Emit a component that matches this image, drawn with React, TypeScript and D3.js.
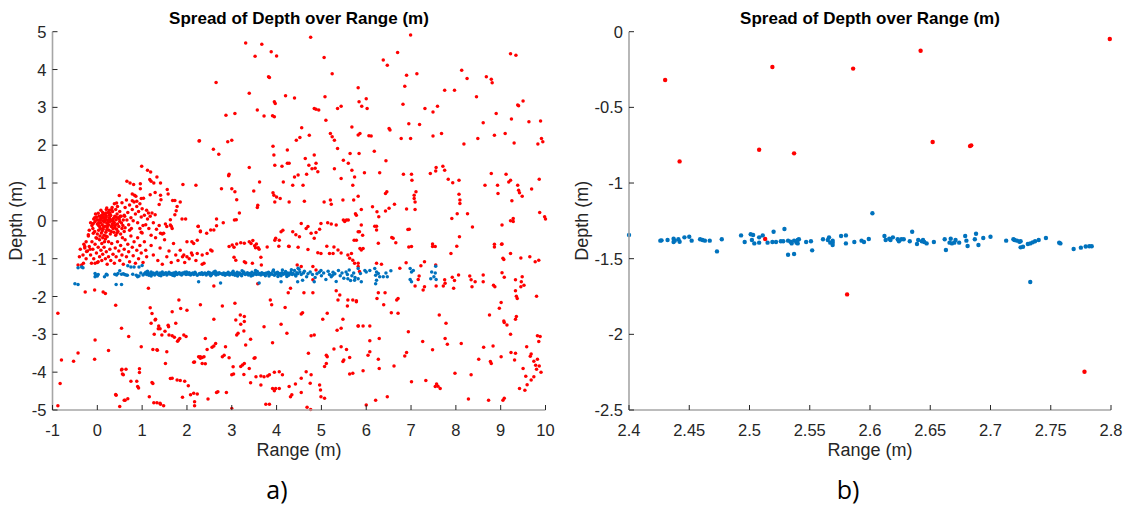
import React from "react";
import * as d3 from "d3";

type P = [number, number];

// ---------- tick labels ----------
const leftRangeTicks = [-1, 0, 1, 2, 3, 4, 5, 6, 7, 8, 9, 10];
const leftDepthTicks = [-5, -4, -3, -2, -1, 0, 1, 2, 3, 4, 5];
const rightRangeTicks = [2.4, 2.45, 2.5, 2.55, 2.6, 2.65, 2.7, 2.75, 2.8];
const rightRangeLabels = ["2.4", "2.45", "2.5", "2.55", "2.6", "2.65", "2.7", "2.75", "2.8"];
const rightDepthTicks = [-2.5, -2, -1.5, -1, -0.5, 0];
const rightDepthLabels = ["-2.5", "-2", "-1.5", "-1", "-0.5", "0"];

// ---------- panel a) red: upper half ----------
const leftRedUpper: P[] = [
  [3.31,4.70],[3.67,4.67],[3.88,4.47],[4.00,4.36],[3.52,4.35],[4.76,4.85],[5.06,4.32],[6.99,4.91],[6.70,4.45],[6.38,4.25],
  [6.47,4.11],[5.24,3.89],[3.82,3.81],[3.84,3.79],[2.65,3.66],[3.39,3.37],[3.95,3.15],[3.97,3.10],[4.20,3.31],[4.40,3.25],
  [3.57,2.93],[3.72,2.77],[3.95,2.75],[3.91,2.78],[2.87,2.79],[3.07,2.84],[4.84,2.97],[4.88,2.95],[4.94,2.93],[5.08,3.28],
  [5.36,2.97],[5.44,3.03],[5.82,3.52],[5.84,3.15],[5.90,3.03],[6.00,3.23],[6.02,2.97],[6.86,3.56],[6.90,3.85],[7.13,3.89],
  [6.82,3.08],[7.31,2.97],[7.59,3.03],[7.49,2.88],[7.75,3.45],[7.97,3.45],[8.13,3.98],[8.25,3.76],[8.46,3.28],[8.68,3.81],
  [8.79,3.74],[8.81,3.65],[9.22,4.42],[9.34,4.38],[9.38,3.06],[9.40,3.04],[9.50,3.17],[6.51,2.44],[6.53,2.40],[6.95,2.57],
  [7.19,2.55],[6.99,2.18],[6.78,2.18],[7.49,2.24],[7.68,2.31],[8.49,2.18],[8.61,2.59],[8.86,2.26],[8.90,2.84],[9.10,2.31],
  [9.24,2.69],[9.30,2.06],[9.63,2.62],[9.89,2.64],[9.91,2.18],[9.94,2.09],[9.83,2.03],[8.18,2.03],[5.86,2.31],[6.11,2.24],
  [6.06,2.25],[5.82,2.27],[5.20,2.31],[5.24,2.22],[5.29,2.13],[5.36,1.91],[5.10,2.66],[5.68,2.48],[4.73,2.26],[4.56,2.46],
  [4.52,2.20],[4.44,2.13],[4.24,1.87],[3.92,1.97],[3.94,1.74],[2.27,2.11],[2.59,1.89],[2.71,1.76],[2.91,2.09],[3.00,2.13],
  [3.39,1.41],[2.94,1.23],[2.93,1.19],[3.62,1.03],[3.49,0.79],[3.58,0.41],[3.57,0.35],[3.00,0.85],[3.07,0.77],[3.11,0.56],
  [2.77,0.85],[2.66,0.05],[3.06,0.02],[3.10,0.03],[3.17,0.21],[3.96,1.47],[4.12,1.44],[4.24,1.52],[4.28,1.52],[4.15,1.03],
  [3.92,0.74],[4.00,0.63],[4.08,0.59],[3.94,0.68],[3.96,0.50],[4.36,0.94],[4.40,1.16],[4.48,1.21],[4.59,0.94],[4.64,1.65],
  [4.72,1.47],[4.79,1.38],[4.67,1.23],[4.84,1.74],[4.88,1.52],[4.92,1.30],[4.86,1.39],[4.28,0.50],[4.62,0.52],[5.06,0.50],
  [5.20,0.55],[5.22,0.44],[5.29,1.38],[5.44,1.12],[5.49,1.60],[5.60,1.52],[5.68,1.34],[5.64,1.78],[5.74,1.16],[5.70,0.94],
  [5.84,1.78],[5.96,1.27],[5.82,0.65],[5.72,0.55],[5.48,0.55],[6.18,1.84],[6.30,1.27],[6.44,1.59],[6.46,0.77],[6.43,0.72],
  [6.63,0.44],[6.51,0.33],[6.83,1.23],[7.01,1.23],[7.02,1.07],[7.07,0.59],[7.09,0.50],[7.11,0.77],[7.07,0.68],[6.90,0.31],
  [7.09,0.30],[7.43,1.25],[7.56,1.41],[7.55,1.32],[7.71,1.44],[7.75,1.34],[7.83,1.10],[7.93,1.01],[8.07,1.07],[8.07,0.70],
  [8.09,0.55],[8.09,0.46],[8.26,0.19],[7.91,0.06],[8.03,0.19],[8.65,0.94],[8.79,1.25],[8.93,0.94],[8.94,0.72],[9.12,1.23],
  [9.18,1.03],[9.22,1.07],[9.25,0.53],[9.28,0.06],[9.22,0.00],[9.38,0.94],[9.40,0.81],[9.42,0.74],[9.48,0.65],[9.69,0.84],
  [9.86,1.10],[9.87,0.22],[9.98,0.11],[10.0,0.05],[5.49,0.02],[5.56,0.02],[5.60,0.02],[5.76,0.19],[5.78,0.15],[5.89,0.30],
  [6.14,0.37],[6.24,0.24],[6.28,0.11],[6.43,0.26],[2.28,2.12],[1.91,0.96],[2.20,0.94],
];

// ---------- panel a) red: cluster near the sonar ----------
const leftRedCluster: P[] = [
  [-0.08,0.05],[-0.05,-0.02],[-0.02,0.10],[0.00,-0.08],[0.02,0.02],[0.04,0.12],[0.05,-0.15],[0.07,-0.05],[0.08,0.06],[0.10,0.15],
  [0.11,-0.10],[0.12,0.00],[0.13,-0.22],[0.14,0.08],[0.15,-0.03],[0.16,0.18],[0.17,-0.14],[0.18,0.04],[0.19,-0.30],[0.20,0.10],
  [0.21,-0.06],[0.22,-0.18],[0.23,0.02],[0.24,0.22],[0.25,-0.10],[0.26,-0.25],[0.27,0.08],[0.28,-0.02],[0.29,-0.35],[0.30,0.14],
  [0.31,-0.15],[0.32,0.00],[0.33,-0.08],[0.34,0.25],[0.35,-0.20],[0.36,0.06],[0.37,-0.30],[0.38,-0.05],[0.39,0.12],[0.40,-0.12],
  [0.41,-0.38],[0.42,0.03],[0.43,-0.22],[0.44,0.18],[0.45,-0.08],[0.46,-0.28],[0.47,0.08],[0.48,-0.15],[0.50,-0.02],[0.52,-0.35],
  [0.53,0.12],[0.55,-0.20],[0.56,-0.45],[0.58,0.02],[0.60,-0.28],[-0.12,-0.12],[-0.10,-0.20],[-0.06,-0.28],[0.00,-0.35],[0.03,-0.25],
  [0.06,-0.40],[0.09,-0.32],[0.12,-0.45],[0.15,-0.38],[0.18,-0.48],[0.22,-0.42],[0.25,-0.55],[0.02,0.20],[0.08,0.28],[0.12,0.22],
  [0.20,0.30],[0.27,0.28],[0.33,0.35],[-0.04,0.18],[0.16,-0.55],[0.10,-0.60],[0.05,-0.50],[-0.03,-0.45],[-0.15,-0.05],[-0.18,-0.25],
  [-0.06,0.08],[0.03,-0.12],[0.09,0.10],[0.14,-0.16],[0.19,0.14],[0.24,-0.04],[0.29,0.04],[0.34,-0.12],[0.06,0.02],[0.17,0.00],
  [-0.30,-0.62],[-0.28,-0.72],[-0.25,-0.55],[-0.22,-0.80],[-0.20,-0.40],[-0.18,-0.68],[-0.15,-0.90],[-0.12,-0.55],[-0.10,-0.75],[-0.08,-1.00],
  [-0.05,-0.62],[-0.02,-0.85],[0.00,-1.10],[0.02,-0.70],[0.05,-0.95],[0.08,-0.78],[0.10,-1.05],[0.12,-0.88],[0.15,-0.70],[0.18,-1.00],
  [0.20,-0.82],[0.22,-1.15],[0.25,-0.95],[0.28,-0.75],[0.30,-1.05],[0.32,-0.60],[0.35,-0.88],[0.38,-1.12],[0.40,-0.72],[0.42,-0.95],
  [0.45,-0.55],[0.48,-0.80],[0.50,-1.05],[0.52,-0.65],[0.55,-0.90],[0.58,-1.15],[0.60,-0.75],[0.62,-0.50],[0.65,-0.95],[0.68,-0.62],
  [0.70,-0.82],[0.72,-1.08],[0.75,-0.40],[0.78,-0.70],[0.80,-0.92],[0.82,-0.55],[0.85,-1.12],[0.88,-0.78],[0.90,-0.45],[0.92,-1.00],
  [0.95,-0.65],[0.98,-0.85],[1.00,-0.32],[1.02,-1.10],[1.05,-0.55],[1.08,-0.78],[1.10,-0.95],[0.70,-0.10],[0.72,-0.25],[0.66,0.02],
  [0.62,-0.18],[0.76,-0.20],[0.80,0.00],[0.95,-0.20],[1.02,-0.12],[0.98,-0.30],[-0.43,-1.17],[-0.35,-1.17],[-0.31,-1.12],[-0.13,-1.12],
  [-0.05,-1.12],[0.02,-1.08],[0.38,0.45],[0.45,0.38],[0.50,0.25],[0.55,0.48],[0.60,0.15],[0.62,0.35],[0.65,0.55],[0.68,0.22],
  [0.72,0.42],[0.75,0.08],[0.78,0.30],[0.82,0.50],[0.85,0.18],[0.88,0.38],[0.90,-0.05],[0.92,0.25],[0.95,0.45],[0.98,0.10],
  [1.00,0.32],[1.05,0.15],[1.08,-0.10],[1.10,0.28],[1.12,0.05],[1.15,-0.20],[0.99,1.44],[1.12,1.34],[1.19,1.29],[1.33,1.16],
  [0.66,1.05],[0.73,1.00],[0.81,0.96],[0.96,0.98],[1.17,1.09],[1.20,1.05],[1.26,1.00],[1.41,1.00],[0.96,0.85],[0.78,0.71],
  [0.83,0.68],[0.86,0.65],[0.98,0.59],[1.03,0.60],[1.18,0.69],[1.29,0.75],[1.41,0.68],[1.42,0.56],[1.56,0.83],[1.58,0.71],
  [1.68,0.54],[1.73,0.54],[1.85,0.50],[1.78,0.38],[1.76,0.27],[1.73,0.16],[1.38,0.43],[0.78,0.53],[0.88,0.52],[0.49,0.67],
  [0.43,0.47],[0.41,0.30],[0.32,0.30],[0.21,0.34],[0.19,0.21],[0.28,0.21],[0.10,0.14],[0.51,0.12],[0.61,0.12],[1.14,0.21],
  [1.22,0.21],[1.18,0.12],[1.29,0.16],[1.52,-0.08],[1.63,0.03],[1.65,-0.14],[1.89,0.05],[1.97,0.05],[2.25,-0.14],[1.25,-0.05],
  [1.32,-0.22],[1.45,-0.35],[1.20,-0.38],[1.38,-0.12],[-0.20,-0.37],[-0.09,-0.33],[-0.01,-0.46],[-0.28,-0.68],[-0.24,-0.81],[-0.16,-0.75],
  [-0.32,-0.90],[-0.38,-0.75],[-0.40,-0.95],[-0.25,-1.00],
  [1.20,-0.65],[1.25,-0.90],[1.30,-0.45],[1.35,-1.05],[1.40,-0.72],[1.45,-1.15],[1.50,-0.50],[1.55,-0.95],[1.60,-0.80],[1.65,-1.10],
  [1.70,-0.60],[1.75,-0.90],[1.80,-1.05],[1.85,-0.78],[1.90,-0.95],[1.95,-1.10],[2.00,-0.55],[2.05,-1.00],[2.10,-0.85],[2.20,-1.05],
  [2.15,-0.60],[2.11,-0.55],[2.23,-0.51],[2.25,-0.15],[2.30,-0.29],[1.41,-0.33],[1.48,-0.33],[1.55,-0.15],[1.63,-0.11],[1.67,-0.20],
  [1.93,-0.90],[2.00,-0.95],[2.12,-0.90],[2.23,-0.86],[2.34,-0.90],[2.38,-1.12],
  [0.03,-0.05],[0.13,0.11],[0.21,-0.24],[0.26,0.15],[0.36,-0.02],[0.44,-0.32],[0.49,0.05],[0.57,-0.12],[0.11,-0.27],[-0.01,0.03],
  [0.07,-0.20],[0.31,-0.28],[0.39,-0.18],[0.23,-0.12],[0.16,0.07],[0.28,0.18],[0.42,0.10],[0.54,-0.06],[-0.09,-0.07],[0.19,-0.40],
];

// ---------- panel a) red: lower half ----------
const leftRedLower: P[] = [
  [-0.88,-2.44],[-0.80,-3.68],[-0.83,-4.30],[-0.88,-4.89],[-0.53,-3.71],[-0.43,-3.49],[-0.27,-1.88],[-0.06,-1.83],[0.13,-1.88],[0.18,-1.92],
  [-0.05,-3.15],[-0.06,-3.66],[0.25,-3.43],[0.41,-2.23],[0.42,-4.61],[0.54,-2.84],[0.54,-3.94],[0.58,-4.07],[0.64,-3.92],[0.70,-3.06],
  [0.50,-4.91],[0.62,-4.74],[0.68,-4.70],[0.88,-4.24],[0.92,-4.42],[0.98,-3.33],[0.94,-3.91],[1.18,-2.30],[1.22,-2.45],[1.20,-2.71],
  [1.30,-2.60],[1.27,-3.00],[1.24,-3.40],[1.24,-4.30],[1.34,-3.42],[1.36,-2.85],[1.40,-2.85],[1.40,-4.82],[1.48,-4.89],[1.51,-2.92],
  [1.58,-2.76],[1.60,-3.02],[1.75,-2.71],[1.79,-3.18],[1.81,-3.15],[1.84,-3.11],[1.93,-3.02],[1.98,-3.06],[1.72,-3.08],[1.63,-4.17],
  [1.78,-4.21],[1.85,-4.22],[1.95,-4.24],[1.90,-4.66],[1.67,-2.40],[1.86,-2.32],[2.00,-2.36],[1.29,-2.62],[1.37,-2.78],[1.59,-2.80],
  [1.14,-1.78],[1.44,-3.02],[1.67,-3.04],[1.33,-3.41],[1.52,-3.77],[1.55,-3.46],[1.67,-4.16],[2.03,-4.36],[2.08,-4.60],[2.15,-4.56],
  [2.23,-4.58],[2.17,-4.78],[1.16,-4.65],[1.26,-4.81],[1.33,-4.81],[1.41,-4.85],[0.55,-3.92],[0.56,-4.05],[0.41,-4.59],[0.75,-4.24],
  [0.90,-4.38],[0.94,-4.01],[1.22,-4.27],[1.82,-2.09],[2.15,-3.74],[2.26,-3.59],[2.30,-3.63],[2.38,-3.59],[2.34,-3.77],[2.17,-4.89],
  [0.60,-4.74],
  [2.30,-0.27],[2.44,-0.33],[2.53,-0.24],[2.60,-0.24],[2.66,-0.13],[2.81,-0.05],[2.45,-0.86],[2.53,-0.77],[2.56,-0.80],[2.94,-0.68],
  [3.01,-0.64],[3.05,-0.70],[3.11,-0.61],[3.20,-0.58],[3.28,-0.59],[3.39,-0.55],[3.43,-0.60],[3.47,-0.52],[3.51,-0.66],[3.55,-0.61],
  [3.53,-0.71],[3.59,-0.71],[3.61,-0.75],[3.05,-0.96],[3.09,-1.04],[3.28,-1.08],[3.31,-1.11],[3.46,-1.12],[3.65,-0.96],[3.66,-1.17],
  [2.34,-1.15],[3.98,-0.46],[4.10,-0.29],[4.06,-0.51],[4.28,-0.68],[4.36,-0.29],[4.43,-0.37],[4.51,-0.42],[4.55,-0.07],[4.66,-0.20],
  [4.70,-0.15],[4.77,-0.33],[4.84,-0.46],[4.88,-0.31],[4.96,-0.22],[4.99,-0.07],[5.14,-0.05],[5.22,-0.08],[5.33,-0.11],[5.52,-0.02],
  [5.78,-0.51],[5.82,-0.29],[4.92,-0.84],[4.99,-0.86],[5.18,-0.86],[5.26,-0.86],[5.37,-0.77],[5.59,-0.90],[5.67,-0.86],[5.63,-0.99],
  [5.70,-1.04],[5.74,-1.12],[5.82,-1.12],[4.46,-1.17],[4.55,-1.21],[4.81,-1.21],[4.88,-1.30],[4.81,-1.56],[3.79,-0.69],[3.96,-0.51],
  [4.14,-0.25],[4.05,-0.67],[4.27,-0.67],[4.48,-0.70],[4.70,-0.76],[5.12,-0.67],[5.28,-0.69],[5.44,-0.85],[5.73,-0.51],[5.92,-0.38],
  [2.60,-1.72],[2.79,-2.25],[3.07,-2.18],[3.09,-2.62],[3.19,-2.49],[3.28,-2.53],[3.28,-2.66],[3.20,-2.73],[3.14,-2.97],[3.11,-3.02],
  [3.27,-2.91],[3.42,-3.13],[3.31,-3.28],[2.86,-3.33],[2.60,-2.60],[2.41,-3.11],[2.45,-3.40],[2.56,-3.34],[2.60,-3.31],[2.64,-3.24],
  [2.30,-3.59],[2.34,-3.61],[2.41,-3.78],[2.79,-3.59],[2.83,-3.55],[2.94,-3.62],[3.03,-3.86],[3.20,-3.85],[3.24,-3.81],[3.28,-3.77],
  [3.39,-3.90],[3.50,-3.63],[3.52,-3.62],[3.54,-4.12],[3.65,-4.10],[3.72,-4.12],[3.80,-4.10],[3.84,-4.07],[3.00,-4.07],[3.04,-4.05],
  [3.27,-4.06],[3.42,-4.28],[3.65,-4.34],[3.95,-4.00],[4.06,-3.99],[4.13,-4.07],[3.91,-4.43],[3.98,-4.43],[4.06,-4.43],[3.95,-4.49],
  [4.28,-4.38],[4.34,-4.60],[4.31,-4.65],[4.55,-4.16],[4.66,-3.99],[4.55,-4.54],[4.77,-4.07],[4.75,-4.29],[4.96,-4.34],[4.98,-4.47],
  [4.71,-3.50],[4.77,-3.04],[4.84,-3.02],[4.23,-2.97],[3.91,-3.22],[3.72,-2.80],[4.10,-2.73],[4.55,-2.46],[4.58,-2.43],[4.61,-1.90],
  [4.81,-1.90],[4.31,-1.78],[4.26,-1.90],[4.19,-2.29],[3.86,-2.09],[3.89,-2.22],[5.03,-2.60],[5.13,-2.44],[5.33,-1.85],[5.37,-2.09],
  [5.41,-1.96],[5.59,-2.09],[5.70,-2.09],[5.78,-2.14],[5.58,-2.25],[5.82,-2.78],[5.48,-2.60],[5.44,-2.84],[5.35,-2.89],[5.28,-3.39],
  [5.50,-3.68],[5.48,-3.72],[5.63,-3.61],[5.70,-4.03],[5.63,-4.05],[5.11,-3.55],[5.13,-3.59],[5.07,-3.85],[5.11,-3.77],[4.99,-4.65],
  [5.07,-4.69],[2.69,-4.52],[2.66,-4.54],[2.47,-4.71],[2.88,-4.54],[3.00,-4.96],[3.76,-4.85],[3.84,-4.85],[4.42,-4.31],[2.30,-2.22],
  [4.68,-4.93],[4.76,-4.99],[5.44,-3.33],[5.56,-3.40],[3.58,-1.66],[2.17,-3.73],
  [5.89,-0.11],[5.85,-0.29],[6.23,-0.14],[6.23,-0.24],[6.27,-0.59],[5.93,-0.73],[5.89,-0.77],[6.60,-0.46],[6.66,-0.58],[6.96,-0.22],
  [7.01,-0.68],[7.48,-0.61],[7.54,-0.68],[7.48,-0.68],[8.02,-0.67],[8.08,-0.42],[7.89,-0.86],[9.03,-0.61],[9.05,-0.99],[9.22,-0.86],
  [6.89,-1.11],[6.75,-1.25],[7.22,-1.19],[7.55,-1.17],[6.23,-1.12],[6.34,-1.15],[5.85,-1.34],[5.82,-1.21],[7.09,-1.72],[7.16,-1.55],
  [7.18,-1.46],[7.27,-1.83],[7.30,-1.74],[7.56,-1.72],[7.75,-1.56],[7.72,-1.72],[7.76,-1.65],[7.92,-1.49],[7.97,-1.58],[7.95,-1.78],
  [8.06,-1.43],[8.31,-1.46],[8.34,-1.56],[8.43,-1.61],[8.36,-1.74],[8.61,-1.43],[8.61,-1.61],[8.84,-1.70],[8.87,-1.74],[9.03,-1.37],
  [9.08,-1.49],[9.33,-1.56],[9.35,-1.99],[9.33,-1.85],[6.27,-1.90],[6.42,-1.90],[6.24,-2.05],[6.71,-2.05],[6.68,-2.09],[6.39,-2.22],
  [6.56,-2.43],[6.71,-2.44],[5.78,-2.11],[5.82,-2.78],[5.93,-2.78],[6.08,-2.78],[6.08,-3.17],[6.29,-3.11],[6.08,-3.46],[6.04,-3.55],
  [6.27,-3.66],[6.29,-3.90],[5.93,-3.96],[6.00,-4.87],[6.21,-4.74],[6.47,-4.65],[6.62,-3.84],[6.86,-3.57],[6.90,-3.48],[6.94,-2.93],
  [7.26,-3.19],[7.48,-3.41],[7.01,-4.25],[7.33,-4.22],[7.57,-4.31],[7.60,-4.37],[7.54,-4.38],[7.65,-4.43],[7.63,-2.49],[7.78,-2.71],
  [7.76,-3.11],[7.81,-3.26],[8.12,-3.24],[7.98,-4.03],[8.34,-4.07],[8.28,-4.71],[8.62,-3.34],[8.83,-3.31],[8.51,-3.66],[8.77,-3.72],
  [8.79,-3.77],[9.01,-3.59],[9.23,-3.48],[9.33,-3.50],[9.31,-3.68],[8.75,-2.49],[8.97,-2.31],[9.01,-2.16],[9.07,-2.65],[9.08,-2.69],
  [9.14,-2.75],[9.22,-3.00],[9.33,-2.60],[9.35,-2.53],[8.73,-4.74],[9.05,-4.74],[9.08,-4.69],[9.03,-0.11],[9.28,-0.02],[9.02,-0.62],
  [9.07,-1.02],[7.30,-1.08],[8.37,-0.16],[8.86,-0.62],[8.86,-0.69],[6.19,-0.14],[6.57,-0.44],[6.93,-0.23],[6.95,-0.69],[5.86,-0.73],
  [9.65,-0.95],[9.77,-1.08],[9.85,-1.04],[9.45,-1.74],[9.52,-1.70],[9.46,-1.61],[9.48,-1.48],[9.37,-2.05],[9.42,-4.43],[9.54,-4.48],
  [9.58,-3.33],[9.66,-3.58],[9.68,-3.52],[9.74,-3.71],[9.78,-3.82],[9.80,-3.92],[9.82,-3.04],[9.88,-3.06],[9.85,-3.19],[9.68,-4.21],
  [9.74,-4.12],[9.82,-3.66],[9.86,-3.84],[9.50,-3.90],[9.56,-4.11],[9.59,-4.33],[9.80,-1.99],[9.45,-0.98],[9.90,-4.00],
];

// ---------- panel a) blue: seabed returns ----------
const leftBlue: P[] = [
  [-0.43,-1.24],[-0.32,-1.24],[-0.35,-1.22],[-0.50,-1.66],[-0.43,-1.68],[-0.05,-1.39],[-0.05,-1.48],[-0.03,-1.44],[0.02,-1.42],[0.00,-1.46],
  [0.20,-1.41],[0.16,-1.48],[0.22,-1.43],[0.39,-1.41],[0.43,-1.43],[0.46,-1.39],[0.50,-1.32],[0.54,-1.41],[0.58,-1.40],[0.61,-1.42],
  [0.64,-1.43],[0.67,-1.44],[0.42,-1.68],[0.54,-1.68],[0.68,-1.19],[0.75,-1.22],[0.82,-1.22],[0.93,-1.22],[1.00,-1.18],[0.79,-1.41],
  [0.87,-1.44],[0.93,-1.46],[0.90,-1.48],[0.97,-1.38],[1.02,-1.43],
  [1.05,-1.40],[1.08,-1.36],[1.10,-1.42],[1.13,-1.38],[1.15,-1.44],[1.18,-1.40],[1.20,-1.35],[1.23,-1.41],[1.25,-1.38],[1.28,-1.43],
  [1.30,-1.39],[1.33,-1.36],[1.35,-1.41],[1.38,-1.44],[1.40,-1.38],[1.43,-1.40],[1.45,-1.35],[1.48,-1.42],[1.50,-1.39],[1.53,-1.37],
  [1.55,-1.43],[1.58,-1.40],[1.60,-1.36],[1.63,-1.41],[1.65,-1.39],[1.68,-1.44],[1.70,-1.38],[1.73,-1.40],[1.75,-1.36],[1.78,-1.42],
  [1.80,-1.39],[1.83,-1.37],[1.85,-1.41],[1.88,-1.43],[1.90,-1.38],[1.93,-1.40],[1.95,-1.36],[1.98,-1.42],[2.00,-1.39],[2.03,-1.41],
  [2.05,-1.37],[2.08,-1.43],[2.10,-1.40],[2.13,-1.38],[2.15,-1.42],[2.18,-1.36],[2.20,-1.40],[2.23,-1.44],[2.26,-1.61],[2.28,-1.39],
  [2.30,-1.41],[2.33,-1.37],[2.35,-1.42],[2.38,-1.40],[2.40,-1.38],[2.43,-1.43],[2.45,-1.39],[2.48,-1.36],[2.50,-1.41],[2.52,-1.38],
  [2.55,-1.42],[2.57,-1.39],[2.60,-1.35],[2.62,-1.40],[2.65,-1.43],[2.67,-1.38],[2.70,-1.41],[2.72,-1.37],[2.75,-1.64],[2.77,-1.40],
  [2.80,-1.42],[2.82,-1.38],[2.85,-1.44],[2.87,-1.39],[2.90,-1.41],[2.92,-1.36],[2.95,-1.43],[2.97,-1.40],[3.00,-1.38],[3.02,-1.42],
  [3.05,-1.39],[3.07,-1.44],[3.10,-1.40],[3.12,-1.36],[3.15,-1.42],[3.17,-1.38],[3.20,-1.41],[3.22,-1.45],[3.25,-1.39],[3.27,-1.35],
  [3.30,-1.42],[3.32,-1.40],[3.35,-1.37],[3.37,-1.43],[3.40,-1.39],[3.42,-1.41],[3.45,-1.36],[3.47,-1.44],[3.50,-1.40],[3.52,-1.38],
  [3.55,-1.42],[3.57,-1.34],[3.60,-1.41],[3.61,-1.64],[3.62,-1.39],[3.65,-1.43],[3.67,-1.37],[3.70,-1.41],[3.72,-1.39],[3.75,-1.45],
  [3.77,-1.38],[3.80,-1.40],[3.82,-1.36],[3.85,-1.42],[3.87,-1.39],[3.90,-1.41],[3.92,-1.33],[3.95,-1.44],[3.97,-1.38],[4.00,-1.40],
  [4.02,-1.36],[4.05,-1.42],[4.07,-1.39],[4.10,-1.61],[4.10,-1.45],[4.12,-1.37],[4.15,-1.41],[4.17,-1.39],[4.20,-1.34],[4.22,-1.42],
  [4.25,-1.38],[4.27,-1.44],[4.30,-1.40],[4.32,-1.36],[4.35,-1.42],[4.37,-1.39],[4.40,-1.31],[4.42,-1.43],[4.45,-1.37],[4.47,-1.40],
  [4.50,-1.28],[4.52,-1.35],[4.55,-1.42],[4.58,-1.57],[4.60,-1.38],[4.62,-1.33],[4.67,-1.48],[4.70,-1.40],[4.47,-1.61],
  [3.83,-1.46],[3.93,-1.30],[4.03,-1.47],[4.13,-1.30],[4.23,-1.47],[4.33,-1.29],[4.43,-1.46],[4.48,-1.25],[2.53,-1.45],[2.63,-1.33],
  [3.03,-1.33],[3.13,-1.46],[3.23,-1.32],[3.43,-1.46],[3.53,-1.31],[1.99,-1.35],[1.72,-1.45],[1.42,-1.45],[1.12,-1.33],[1.20,-1.46],
  [4.75,-1.35],[4.80,-1.42],[4.84,-1.61],[4.86,-1.50],[4.90,-1.40],[4.95,-1.36],[5.00,-1.45],[5.05,-1.38],[5.10,-1.55],[5.15,-1.33],
  [5.18,-1.42],[5.22,-1.48],[5.26,-1.36],[5.30,-1.40],[5.33,-1.60],[5.38,-1.31],[5.42,-1.45],[5.46,-1.38],[5.50,-1.52],[5.55,-1.35],
  [5.58,-1.42],[5.62,-1.30],[5.65,-1.58],[5.68,-1.45],[5.72,-1.38],[5.75,-1.50],[4.99,-1.31],[5.25,-1.44],[5.59,-1.53],[5.74,-1.57],
  [5.82,-1.26],[5.87,-1.39],[5.82,-1.53],[5.89,-1.61],[5.97,-1.31],[6.00,-1.35],[6.08,-1.31],[6.19,-1.26],[6.23,-1.35],[6.21,-1.44],
  [6.23,-1.57],[6.21,-1.66],[6.27,-1.39],[6.30,-1.48],[6.38,-1.48],[6.44,-1.38],[6.47,-1.48],[6.55,-1.32],[6.98,-1.26],[7.01,-1.35],
  [6.98,-1.55],[7.01,-1.61],[7.05,-1.31],[7.46,-1.35],[7.54,-1.38],[7.51,-1.48],[7.44,-1.53],[7.56,-1.55],[7.55,-1.20],
];

// ---------- panel b) ----------
const rightRed: P[] = [
  [2.430,-0.319],[2.442,-0.857],[2.508,-0.780],[2.519,-0.233],[2.537,-0.804],[2.513,-1.370],[2.581,-1.736],[2.586,-0.244],
  [2.642,-0.126],[2.652,-0.729],[2.683,-0.756],[2.684,-0.751],[2.778,-2.247],[2.799,-0.048],
];

const rightBlue: P[] = [
  [2.400,-1.344],[2.426,-1.381],[2.427,-1.379],[2.432,-1.377],[2.437,-1.368],[2.437,-1.390],[2.438,-1.381],[2.441,-1.372],[2.442,-1.388],[2.446,-1.359],
  [2.450,-1.355],[2.452,-1.381],[2.459,-1.372],[2.461,-1.377],[2.463,-1.381],[2.467,-1.381],[2.473,-1.452],[2.477,-1.372],[2.493,-1.346],[2.496,-1.390],
  [2.501,-1.339],[2.503,-1.344],[2.502,-1.377],[2.504,-1.399],[2.508,-1.359],[2.508,-1.394],[2.511,-1.346],[2.515,-1.394],[2.519,-1.390],[2.520,-1.322],
  [2.522,-1.390],[2.526,-1.385],[2.528,-1.385],[2.529,-1.304],[2.532,-1.381],[2.532,-1.474],[2.534,-1.388],[2.535,-1.399],[2.537,-1.381],[2.537,-1.469],
  [2.539,-1.394],[2.540,-1.377],[2.541,-1.372],[2.540,-1.399],[2.547,-1.390],[2.551,-1.385],[2.552,-1.445],[2.561,-1.372],[2.565,-1.377],[2.566,-1.359],
  [2.567,-1.394],[2.569,-1.410],[2.569,-1.381],[2.569,-1.394],[2.576,-1.350],[2.580,-1.346],[2.580,-1.399],[2.587,-1.390],[2.593,-1.381],[2.595,-1.390],
  [2.599,-1.370],[2.602,-1.200],[2.612,-1.350],[2.613,-1.377],[2.616,-1.368],[2.617,-1.377],[2.619,-1.359],[2.623,-1.372],[2.624,-1.385],[2.626,-1.372],
  [2.628,-1.372],[2.633,-1.385],[2.635,-1.322],[2.639,-1.403],[2.640,-1.377],[2.643,-1.385],[2.644,-1.377],[2.645,-1.390],[2.647,-1.399],[2.653,-1.390],
  [2.662,-1.372],[2.663,-1.443],[2.666,-1.394],[2.667,-1.368],[2.668,-1.399],[2.670,-1.394],[2.671,-1.377],[2.674,-1.394],[2.679,-1.350],[2.680,-1.381],
  [2.681,-1.416],[2.688,-1.335],[2.687,-1.372],[2.690,-1.410],[2.694,-1.363],[2.700,-1.355],[2.713,-1.381],[2.719,-1.372],[2.720,-1.377],[2.722,-1.381],
  [2.724,-1.388],[2.725,-1.385],[2.725,-1.425],[2.727,-1.421],[2.731,-1.403],[2.733,-1.399],[2.735,-1.392],[2.737,-1.385],[2.740,-1.377],[2.733,-1.654],
  [2.746,-1.363],[2.757,-1.394],[2.758,-1.399],[2.769,-1.436],[2.775,-1.427],[2.779,-1.420],[2.782,-1.418],[2.784,-1.418],
];

// ---------- layout ----------
const W = 1144;
const H = 509;
const FONT = "'Liberation Sans', Arial, Helvetica, sans-serif";
const RED = "#ff0000";
const BLUE = "#0072bd";
const AXIS = "#a6a6a6";
const TEXT = "#262626";

type PanelProps = {
  x0: number; x1: number; y0: number; y1: number;
  xDomain: [number, number]; yDomain: [number, number];
  xTicks: number[]; xLabels: string[];
  yTicks: number[]; yLabels: string[];
  red: P[]; blue: P[]; r: number; tag: string;
  yLabelX: number;
};

function Panel(p: PanelProps) {
  const xs = d3.scaleLinear().domain(p.xDomain).range([p.x0, p.x1]);
  const ys = d3.scaleLinear().domain(p.yDomain).range([p.y1, p.y0]);
  const cx = (p.x0 + p.x1) / 2;
  const cy = (p.y0 + p.y1) / 2;
  const tickLen = 5;
  return (
    <g>
      <g>
        {p.red.map((d, i) => (
          <circle key={"r" + i} cx={xs(d[0])} cy={ys(d[1])} r={p.r} fill={RED} />
        ))}
        {p.blue.map((d, i) => (
          <circle key={"b" + i} cx={xs(d[0])} cy={ys(d[1])} r={p.r} fill={BLUE} />
        ))}
      </g>
      <line x1={p.x0} x2={p.x1} y1={p.y1} y2={p.y1} stroke={AXIS} strokeWidth={1.6} />
      <line x1={p.x0} x2={p.x0} y1={p.y0} y2={p.y1} stroke={AXIS} strokeWidth={1.6} />
      {p.xTicks.map((t, i) => (
        <g key={"xt" + i}>
          <line x1={xs(t)} x2={xs(t)} y1={p.y1} y2={p.y1 - tickLen} stroke={TEXT} strokeWidth={1} />
          <text x={xs(t)} y={p.y1 + 26} textAnchor="middle" fontSize={16.5} fill={TEXT} fontFamily={FONT}>
            {p.xLabels[i]}
          </text>
        </g>
      ))}
      {p.yTicks.map((t, i) => (
        <g key={"yt" + i}>
          <line x1={p.x0} x2={p.x0 + tickLen} y1={ys(t)} y2={ys(t)} stroke={TEXT} strokeWidth={1} />
          <text x={p.x0 - 6} y={ys(t) + 6} textAnchor="end" fontSize={16.5} fill={TEXT} fontFamily={FONT}>
            {p.yLabels[i]}
          </text>
        </g>
      ))}
      <text x={cx} y={24} textAnchor="middle" fontSize={17} fontWeight="bold" fill="#000" fontFamily={FONT}>
        Spread of Depth over Range (m)
      </text>
      <text x={cx} y={456} textAnchor="middle" fontSize={18} fill={TEXT} fontFamily={FONT}>
        Range (m)
      </text>
      <text
        transform={`translate(${p.yLabelX},${cy}) rotate(-90)`}
        textAnchor="middle"
        fontSize={18}
        fill={TEXT}
        fontFamily={FONT}
      >
        Depth (m)
      </text>
      <text x={cx - 22} y={499} textAnchor="middle" fontSize={25} fill="#000" fontFamily="'Open Sans', 'Liberation Sans', sans-serif">
        {p.tag}
      </text>
    </g>
  );
}

export default function App() {
  const leftRed = [...leftRedUpper, ...leftRedCluster, ...leftRedLower];
  return (
    <svg
      width={W}
      height={H}
      viewBox={`0 0 ${W} ${H}`}
      style={{ position: "absolute", left: 0, top: 0, background: "#fff" }}
    >
      <rect x={0} y={0} width={W} height={H} fill="#fff" />
      <Panel
        x0={52.5} x1={545.5} y0={31.7} y1={410}
        xDomain={[-1, 10]} yDomain={[-5, 5]}
        xTicks={leftRangeTicks} xLabels={leftRangeTicks.map(String)}
        yTicks={leftDepthTicks} yLabels={leftDepthTicks.map(String)}
        red={leftRed} blue={leftBlue} r={1.75} tag="a)" yLabelX={22}
      />
      <Panel
        x0={629} x1={1111} y0={31.7} y1={410}
        xDomain={[2.4, 2.8]} yDomain={[-2.5, 0]}
        xTicks={rightRangeTicks} xLabels={rightRangeLabels}
        yTicks={rightDepthTicks} yLabels={rightDepthLabels}
        red={rightRed} blue={rightBlue} r={2.2} tag="b)" yLabelX={588}
      />
    </svg>
  );
}
